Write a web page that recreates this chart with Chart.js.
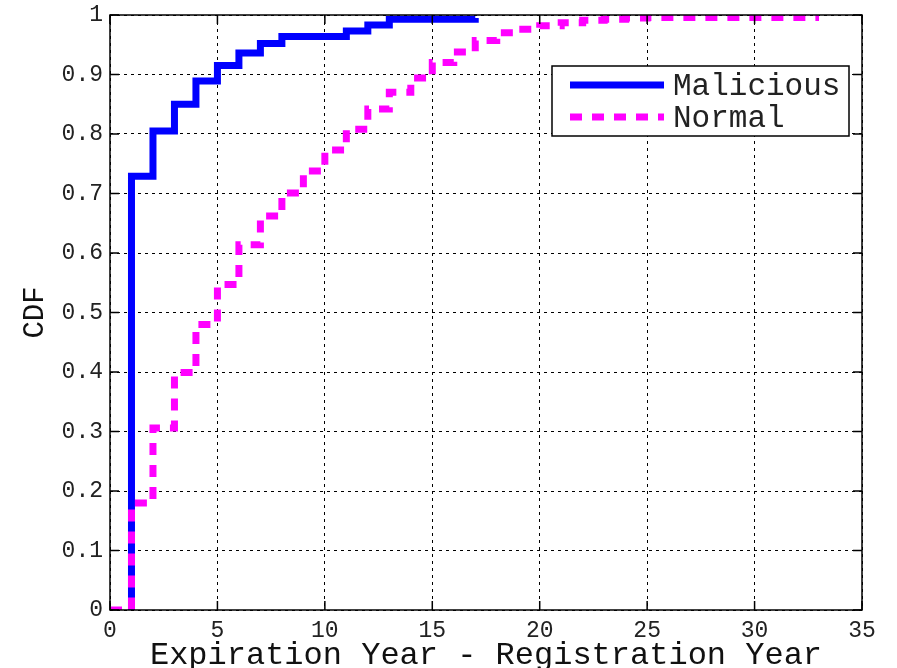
<!DOCTYPE html>
<html>
<head>
<meta charset="utf-8">
<script src="https://cdn.jsdelivr.net/npm/chart.js@4.4.0/dist/chart.umd.min.js"></script>
<style>
  html, body { margin: 0; padding: 0; background: #fff; }
  #wrap { width: 897px; height: 668px; }
</style>
</head>
<body>
<div id="wrap"><canvas id="cdfChart"></canvas></div>
<script>
// step CDF values
const malX = [1, 1, 2, 3, 4, 5, 6, 7, 8, 11, 12, 13, 17];
const malY = [0, 0.729, 0.805, 0.850, 0.889, 0.915, 0.936, 0.952, 0.964, 0.973, 0.983, 0.993, 0.995];

const normX = [0, 1, 2, 3, 4, 5, 6, 7, 8, 9, 10, 11, 12, 13, 14, 15, 16, 17, 18, 19, 20, 21, 22, 23, 24, 25, 33];
const normY = [0, 0.180, 0.306, 0.399, 0.480, 0.547, 0.614, 0.662, 0.701, 0.738, 0.773, 0.808, 0.842, 0.870,
               0.894, 0.920, 0.938, 0.957, 0.970, 0.976, 0.982, 0.987, 0.991, 0.993, 0.995, 0.996, 0.996];

const seriesNames = ["Malicious", "Normal"];
const xTickLabels = ["0", "5", "10", "15", "20", "25", "30", "35"];
const yTickLabels = ["0", "0.1", "0.2", "0.3", "0.4", "0.5", "0.6", "0.7", "0.8", "0.9", "1"];

const FONT = "'Liberation Mono', 'DejaVu Sans Mono', monospace";

function toPoints(xs, ys) {
  return xs.map((x, i) => ({ x: x, y: ys[i] }));
}

// box, inward ticks and the legend box (matlab style)
const frameAndLegend = {
  id: "frameAndLegend",
  afterDatasetsDraw(chart) {
    const { ctx, chartArea: a, scales } = chart;
    const xs = scales.x, ys = scales.y;
    ctx.save();
    ctx.setLineDash([]);
    ctx.strokeStyle = "#000";
    ctx.lineWidth = 1.5;
    ctx.strokeRect(a.left, a.top, a.right - a.left, a.bottom - a.top);

    const tl = 9;
    ctx.beginPath();
    xs.ticks.forEach(t => {
      const px = xs.getPixelForValue(t.value);
      ctx.moveTo(px, a.bottom); ctx.lineTo(px, a.bottom - tl);
      ctx.moveTo(px, a.top); ctx.lineTo(px, a.top + tl);
    });
    ys.ticks.forEach(t => {
      const py = ys.getPixelForValue(t.value);
      ctx.moveTo(a.left, py); ctx.lineTo(a.left + tl, py);
      ctx.moveTo(a.right, py); ctx.lineTo(a.right - tl, py);
    });
    ctx.stroke();

    // legend
    const bx = a.right - 310, by = a.top + 51, bw = 297, bh = 70;
    ctx.fillStyle = "#fff";
    ctx.fillRect(bx, by, bw, bh);
    ctx.strokeRect(bx, by, bw, bh);
    ctx.font = "31px " + FONT;
    ctx.textBaseline = "middle";
    ctx.textAlign = "left";
    chart.data.datasets.forEach((ds, i) => {
      const ly = by + 19 + i * 32;
      ctx.beginPath();
      ctx.strokeStyle = ds.borderColor;
      ctx.lineWidth = ds.borderWidth;
      ctx.setLineDash(ds.borderDash || []);
      ctx.moveTo(bx + 18, ly);
      ctx.lineTo(bx + 112, ly);
      ctx.stroke();
      ctx.fillStyle = "#222";
      ctx.fillText(ds.label, bx + 121, ly + 2);
    });
    ctx.restore();
  }
};

const ctx = document.getElementById("cdfChart").getContext("2d");

new Chart(ctx, {
  type: "line",
  data: {
    datasets: [
      {
        label: seriesNames[0],
        data: toPoints(malX, malY),
        stepped: "before",
        borderColor: "#0000ff",
        borderWidth: 7,
        pointRadius: 0,
        fill: false,
        order: 1
      },
      {
        label: seriesNames[1],
        data: toPoints(normX, normY),
        stepped: "before",
        borderColor: "#ff00ff",
        borderWidth: 7,
        borderDash: [12, 10],
        pointRadius: 0,
        fill: false,
        order: 0 // drawn on top of the blue line
      }
    ]
  },
  options: {
    responsive: true,
    maintainAspectRatio: false,
    animation: false,
    layout: { padding: { left: 0, right: 35, top: 15, bottom: 0 } },
    plugins: {
      legend: { display: false },
      tooltip: { enabled: false }
    },
    scales: {
      x: {
        type: "linear",
        min: 0,
        max: 35,
        afterFit: s => { s.height = 58; s.paddingLeft = 0; s.paddingRight = 0; },
        ticks: {
          stepSize: 5,
          padding: 7,
          color: "#222",
          font: { family: FONT, size: 23 },
          callback: (v, i) => xTickLabels[i]
        },
        grid: { color: "#000", lineWidth: 1, drawTicks: false },
        border: { display: false, dash: [3, 4] },
        title: {
          display: true,
          text: "Expiration Year - Registration Year",
          color: "#111",
          font: { family: FONT, size: 32, lineHeight: 0.8 },
          padding: { top: 0, bottom: 0 }
        }
      },
      y: {
        min: 0,
        max: 1,
        afterFit: s => { s.width = 110; s.paddingTop = 0; s.paddingBottom = 0; },
        ticks: {
          stepSize: 0.1,
          padding: 7,
          color: "#222",
          font: { family: FONT, size: 23 },
          callback: (v, i) => yTickLabels[i]
        },
        grid: { color: "#000", lineWidth: 1, drawTicks: false },
        border: { display: false, dash: [3, 4] },
        title: {
          display: true,
          text: "CDF",
          color: "#111",
          font: { family: FONT, size: 29, lineHeight: 1 },
          padding: { top: 21, bottom: 0 }
        }
      }
    }
  },
  plugins: [frameAndLegend]
});
</script>
</body>
</html>
